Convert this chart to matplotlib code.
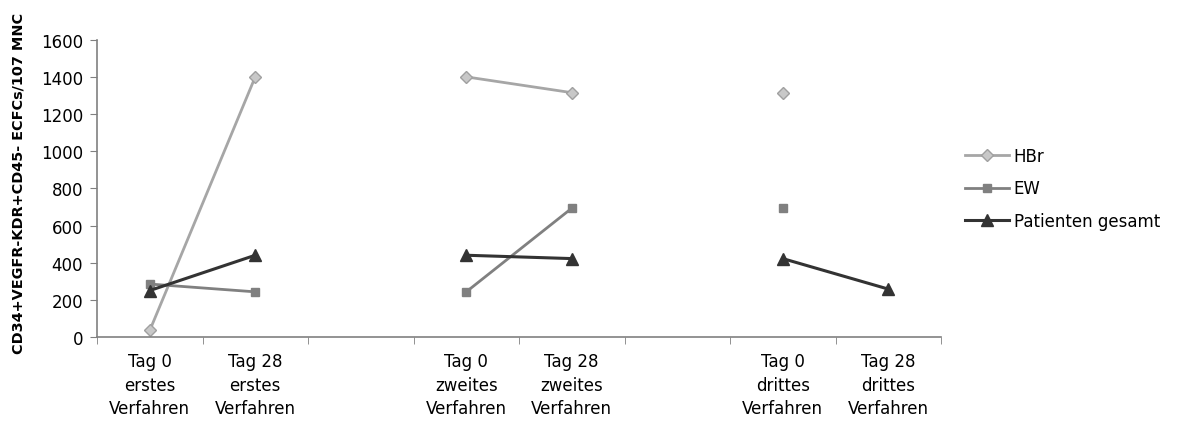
import numpy as np
import matplotlib
matplotlib.use("Agg")
import matplotlib.pyplot as plt

plt.rcParams['font.family'] = ['DejaVu Sans']

categories = [
    "Tag 0\nerstes\nVerfahren", "Tag 28\nerstes\nVerfahren", "",
    "Tag 0\nzweites\nVerfahren", "Tag 28\nzweites\nVerfahren", "",
    "Tag 0\ndrittes\nVerfahren", "Tag 28\ndrittes\nVerfahren",
]
hbr = [35, 1400, np.nan, 1400, 1315, np.nan, 1315, np.nan]
ew = [285, 243, np.nan, 243, 693, np.nan, 693, np.nan]
patienten = [250, 440, np.nan, 440, 422, np.nan, 422, 258]

fig = plt.figure(figsize=(11.81, 4.27), dpi=100)
ax = fig.add_axes([97 / 1181, 1 - 338 / 427, (941 - 97) / 1181, (338 - 40.7) / 427])

x = np.arange(len(categories))
ax.plot(x, hbr, color="#A6A6A6", lw=2, marker="D", ms=6,
        mfc="#C8C8C8", mec="#A0A0A0", mew=1, label="HBr")
ax.plot(x, ew, color="#808080", lw=2, marker="s", ms=6,
        mfc="#808080", mec="#808080", label="EW")
ax.plot(x, patienten, color="#333333", lw=2.2, marker="^", ms=8,
        mfc="#333333", mec="#333333", label="Patienten gesamt")

ax.set_xlim(-0.5, len(categories) - 0.5)
ax.set_ylim(0, 1600)
ax.set_yticks(np.arange(0, 1601, 200))
ax.tick_params(axis="y", labelsize=12, direction="out", length=5, color="#808080", pad=5)

ax.set_xticks(x)
ax.set_xticklabels(categories, fontsize=12, linespacing=1.38)
ax.set_xticks(np.arange(-0.5, len(categories), 1.0), minor=True)
ax.tick_params(axis="x", which="major", length=0, pad=11)
ax.tick_params(axis="x", which="minor", length=5, direction="out", color="#808080")

for side in ("top", "right"):
    ax.spines[side].set_visible(False)
for side in ("left", "bottom"):
    ax.spines[side].set_color("#808080")
    ax.spines[side].set_linewidth(1.2)

ax.set_ylabel("CD34+VEGFR-KDR+CD45- ECFCs/107 MNC", fontsize=10.4, fontweight="bold")
ax.yaxis.set_label_coords(-0.085, 0.52)

ax.legend(loc="center left", bbox_to_anchor=(1.011, 0.5), frameon=False,
          fontsize=12, handlelength=2.6, handletextpad=0.3, labelspacing=0.85)

fig.savefig("out.png", dpi=100)
